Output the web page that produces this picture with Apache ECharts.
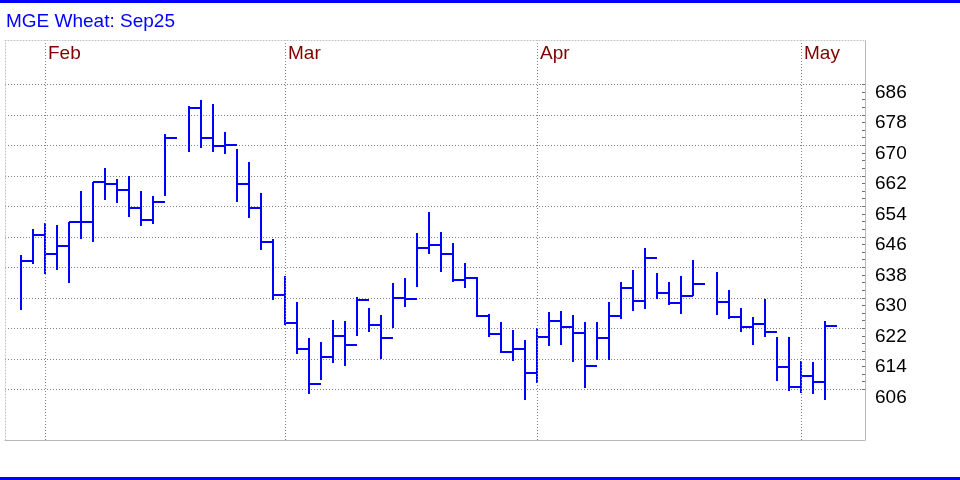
<!DOCTYPE html>
<html>
<head>
<meta charset="utf-8">
<script src="https://cdn.jsdelivr.net/npm/echarts@6/dist/echarts.min.js"></script>
<style>
html,body{margin:0;padding:0;background:#fff;}
#chart{width:960px;height:480px;}
</style>
</head>
<body>
<div id="chart"></div>
<script>
// Trading-day slots (holidays keep an empty slot)
const days = [
 '2025-01-29','2025-01-30','2025-01-31',
 '2025-02-03','2025-02-04','2025-02-05','2025-02-06','2025-02-07',
 '2025-02-10','2025-02-11','2025-02-12','2025-02-13','2025-02-14',
 '2025-02-17','2025-02-18','2025-02-19','2025-02-20','2025-02-21',
 '2025-02-24','2025-02-25','2025-02-26','2025-02-27','2025-02-28',
 '2025-03-03','2025-03-04','2025-03-05','2025-03-06','2025-03-07',
 '2025-03-10','2025-03-11','2025-03-12','2025-03-13','2025-03-14',
 '2025-03-17','2025-03-18','2025-03-19','2025-03-20','2025-03-21',
 '2025-03-24','2025-03-25','2025-03-26','2025-03-27','2025-03-28',
 '2025-03-31','2025-04-01','2025-04-02','2025-04-03','2025-04-04',
 '2025-04-07','2025-04-08','2025-04-09','2025-04-10','2025-04-11',
 '2025-04-14','2025-04-15','2025-04-16','2025-04-17','2025-04-18',
 '2025-04-21','2025-04-22','2025-04-23','2025-04-24','2025-04-25',
 '2025-04-28','2025-04-29','2025-04-30','2025-05-01','2025-05-02'
];
const highs = [
 641.2,648.0,649.6,649.1,650.0,658.0,660.5,664.1,661.2,662.0,
 658.0,656.8,672.9,null,680.4,681.9,680.8,673.4,669.0,665.5,
 657.5,645.3,635.6,628.8,619.5,618.3,624.2,623.9,630.1,627.2,
 625.5,633.8,635.1,646.9,652.4,647.2,644.3,639.0,635.4,625.7,
 623.6,621.6,618.9,622.1,626.2,626.5,625.4,623.7,623.7,628.9,
 634.2,637.3,643.1,636.5,634.1,635.7,639.9,null,636.8,632.0,
 627.3,625.0,629.8,619.7,619.7,613.4,613.2,624.0
];
const lows = [
 626.8,638.8,636.3,637.4,634.0,645.4,644.7,655.7,654.9,651.3,
 648.9,649.4,656.8,null,668.3,669.2,668.2,667.6,655.0,650.9,
 642.6,629.3,622.8,615.2,604.7,608.4,612.8,612.2,619.9,621.0,
 614.0,622.0,627.7,632.9,641.4,636.8,634.1,632.6,625.0,619.6,
 615.4,613.5,603.1,607.7,617.4,617.7,613.2,606.4,613.7,613.8,
 624.5,626.6,627.1,629.8,628.0,625.8,630.5,null,625.5,624.4,
 621.1,617.6,619.7,608.3,605.6,605.0,604.8,603.2
];
const closes = [
 639.7,646.5,641.6,643.7,650.0,650.0,660.5,659.8,658.2,653.6,
 650.5,655.0,672.0,null,679.7,671.8,669.9,670.1,659.9,653.6,
 644.7,630.8,623.5,616.6,607.5,614.4,620.1,617.7,629.3,622.9,
 619.5,630.0,629.8,643.1,643.8,641.4,634.7,635.3,625.3,620.6,
 615.9,616.7,610.4,619.8,624.0,622.4,620.8,612.2,619.5,625.2,
 632.6,629.1,640.5,631.2,628.7,630.6,633.5,null,628.9,625.0,
 622.4,623.2,621.1,611.8,606.7,609.6,608.0,622.7
];
const monthNames = ['Jan','Feb','Mar','Apr','May'];
const yTickMin = 606, yTickMax = 686, yTickStep = 8;

// month separators: drawn at the slot before the first day of each month
const monthIdx = [], monthLbl = [];
for (let i = 1; i < days.length; i++) {
  if (days[i].slice(5,7) !== days[i-1].slice(5,7)) {
    monthIdx.push(i - 1);
    monthLbl.push(monthNames[parseInt(days[i].slice(5,7),10) - 1]);
  }
}
const data = [];
for (let i = 0; i < days.length; i++) {
  if (highs[i] != null) data.push([i, highs[i], lows[i], closes[i]]);
}

const FONT = '"Liberation Sans", Arial, sans-serif';
const xMin = -16/12, xMax = 70 + 1/3;
const yMin = 592.70, yMax = 697.44;

function renderItem(params, api) {
  const i = api.value(0);
  const hi = api.coord([i, api.value(1)]);
  const lo = api.coord([i, api.value(2)]);
  const cl = api.coord([i, api.value(3)]);
  const nx = api.coord([i + 1, api.value(3)])[0];
  const x = Math.round(hi[0]);
  const yc = Math.round(cl[1]);
  const st = {stroke:'#0000ff', lineWidth:2};
  return {type:'group', children:[
    {type:'line', shape:{x1:x, y1:Math.round(hi[1]), x2:x, y2:Math.round(lo[1])}, style:st},
    {type:'line', shape:{x1:x, y1:yc, x2:Math.round(nx), y2:yc}, style:st}
  ]};
}

const chart = echarts.init(document.getElementById('chart'), null, {renderer:'canvas'});
chart.setOption({
  animation:false,
  backgroundColor:'#ffffff',
  title:{text:'MGE Wheat: Sep25', left:6, top:12, padding:0,
    textStyle:{color:'#0000ff', fontFamily:FONT, fontSize:19, fontWeight:'normal', lineHeight:19}},
  grid:[
    {left:5, right:95, top:40.7, bottom:40},
    {left:5, right:95, top:84.3, bottom:90.7}
  ],
  xAxis:[
    {gridIndex:0, type:'value', position:'top', min:xMin, max:xMax,
     axisLine:{show:true, onZero:false, lineStyle:{color:'#c0c0c0', width:1, type:[1,2]}},
     axisTick:{show:false}, splitLine:{show:false},
     axisLabel:{show:true, inside:true, customValues:monthIdx, margin:4, align:'left',
       padding:[0,0,0,3], color:'#800000', fontFamily:FONT, fontSize:19, lineHeight:19,
       formatter:function(v){ const k = monthIdx.indexOf(Math.round(v)); return k >= 0 ? monthLbl[k] : ''; }}},
    {gridIndex:0, type:'value', position:'bottom', min:xMin, max:xMax,
     axisLine:{show:true, onZero:false, lineStyle:{color:'#b8b8b8', width:1}},
     axisTick:{show:false}, axisLabel:{show:false}, splitLine:{show:false}},
    {gridIndex:1, type:'value', min:0, max:1, show:false, axisLine:{onZero:false}}
  ],
  yAxis:[
    {gridIndex:0, type:'value', position:'right', min:yMin, max:yMax,
     axisLine:{show:true, onZero:false, lineStyle:{color:'#b8b8b8', width:1}},
     axisTick:{show:false}, axisLabel:{show:false}, splitLine:{show:false}},
    {gridIndex:0, type:'value', position:'left', min:yMin, max:yMax,
     axisLine:{show:true, onZero:false, lineStyle:{color:'#c0c0c0', width:1, type:[1,2]}},
     axisTick:{show:false}, axisLabel:{show:false}, splitLine:{show:false}},
    {gridIndex:1, type:'value', position:'right', min:yTickMin, max:yTickMax, interval:yTickStep,
     axisLine:{show:false, onZero:false},
     axisTick:{show:true, inside:true, length:3, lineStyle:{color:'#707070'}},
     minorTick:{show:true, splitNumber:4, length:3, lineStyle:{color:'#707070'}},
     splitLine:{show:true, lineStyle:{color:'#808080', width:1, type:[1,2]}},
     axisLabel:{show:true, margin:10, color:'#000000', fontFamily:FONT, fontSize:19,
       verticalAlign:'top', lineHeight:16}}
  ],
  graphic:[
    {type:'rect', shape:{x:0, y:0, width:960, height:3}, style:{fill:'#0000ff'}, silent:true},
    {type:'rect', shape:{x:0, y:477, width:960, height:3}, style:{fill:'#0000ff'}, silent:true}
  ],
  series:[{
    type:'custom', xAxisIndex:0, yAxisIndex:0,
    renderItem:renderItem, data:data, encode:{x:0, y:[1,2,3]}, clip:false,
    markLine:{silent:true, symbol:'none', label:{show:false},
      lineStyle:{color:'#808080', width:1, type:[1,2]},
      data:monthIdx.map(function(v){ return {xAxis:v}; })}
  }]
});
</script>
</body>
</html>
